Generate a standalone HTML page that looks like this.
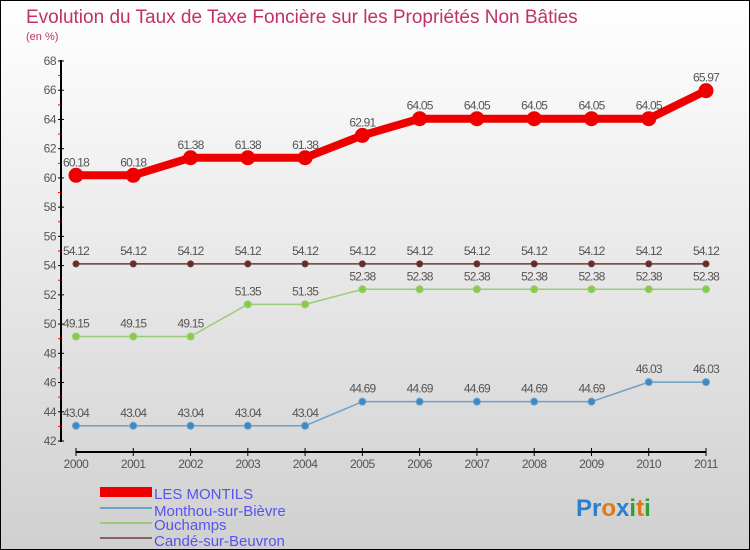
<!DOCTYPE html>
<html><head><meta charset="utf-8"><style>
body{margin:0}
#c{width:750px;height:550px;position:relative;background:linear-gradient(#ffffff,#d0d0d0);box-sizing:border-box;border:1px solid #000;overflow:hidden;font-family:"Liberation Sans",sans-serif}
</style></head><body>
<div id="c">
<svg width="750" height="550" style="position:absolute;left:-1px;top:-1px" id="svg">
<text x="26" y="23" font-size="19" fill="#c0306a">Evolution du Taux de Taxe Foncière sur les Propriétés Non Bâties</text>
<text x="26" y="40" font-size="11" fill="#c0306a">(en %)</text>
<g id="axes"></g><g id="series"></g>
<g>
<rect x="100" y="487" width="52" height="10" fill="#e00"/>
<text x="154" y="499" font-size="15" fill="#5555ee">LES MONTILS</text>
<rect x="100" y="507" width="52" height="2" fill="#6fa0c8"/>
<text x="154" y="516" font-size="15" fill="#5555ee">Monthou-sur-Bièvre</text>
<rect x="100" y="522" width="52" height="2" fill="#99cc77"/>
<text x="154" y="530" font-size="15" fill="#5555ee">Ouchamps</text>
<rect x="100" y="537" width="52" height="2" fill="#8a6060"/>
<text x="154" y="546" font-size="15" fill="#5555ee">Candé-sur-Beuvron</text>
</g>
<text x="576" y="516" font-size="24" font-weight="bold"><tspan fill="#2a7fd0">Pr</tspan><tspan fill="#e07a10">o</tspan><tspan fill="#2a7fd0">x</tspan><tspan fill="#30a030">i</tspan><tspan fill="#e07a10">t</tspan><tspan fill="#30a030">i</tspan></text>
</svg>
</div>
<script>
const years=["2000","2001","2002","2003","2004","2005","2006","2007","2008","2009","2010","2011"];
const yTicks=[42,44,46,48,50,52,54,56,58,60,62,64,66,68];
const montils=[60.18,60.18,61.38,61.38,61.38,62.91,64.05,64.05,64.05,64.05,64.05,65.97];
const monthou=[43.04,43.04,43.04,43.04,43.04,44.69,44.69,44.69,44.69,44.69,46.03,46.03];
const ouchamps=[49.15,49.15,49.15,51.35,51.35,52.38,52.38,52.38,52.38,52.38,52.38,52.38];
const cande=[54.12,54.12,54.12,54.12,54.12,54.12,54.12,54.12,54.12,54.12,54.12,54.12];
const NS="http://www.w3.org/2000/svg";
const xs=i=>76+i*(706-76)/11;
const ys=v=>441-(v-42)*(441-61)/26;
function mk(t,a,p){const e=document.createElementNS(NS,t);for(const k in a)e.setAttribute(k,a[k]);p.appendChild(e);return e;}
const ax=document.getElementById('axes'),se=document.getElementById('series');
let l=mk('line',{x1:61,y1:60,x2:61,y2:442,stroke:'#000','stroke-width':2},ax);


l=mk('line',{x1:76,y1:452,x2:706,y2:452,stroke:'#000','stroke-width':2},ax);


yTicks.forEach((v,i)=>{const y=ys(v);
mk('line',{x1:58,y1:y,x2:64,y2:y,stroke:'#000'},ax);
if(i<yTicks.length-1)mk('line',{x1:58,y1:ys(v+1),x2:61,y2:ys(v+1),stroke:'#e00'},ax);
const t=mk('text',{x:56,y:y+4,'font-size':12,fill:'#555','text-anchor':'end','letter-spacing':'-0.5'},ax);t.textContent=v;

});
years.forEach((yr,i)=>{const x=xs(i);mk('line',{x1:x,y1:448,x2:x,y2:456,stroke:'#000'},ax);
const t=mk('text',{x:x,y:468,'font-size':12,fill:'#555','text-anchor':'middle','letter-spacing':'-0.5'},ax);t.textContent=yr;

});
function series(d,name,col,w,r,fill){
const p=mk('polyline',{points:d.map((v,i)=>xs(i)+','+ys(v)).join(' '),fill:'none',stroke:col,'stroke-width':w,'stroke-linejoin':'round'},se);


d.forEach((v,i)=>{const c=mk('circle',{cx:xs(i),cy:ys(v),r:r,fill:fill,stroke:col},se);


const t=mk('text',{x:xs(i),y:ys(v)-9,'font-size':12,fill:'#555','text-anchor':'middle','letter-spacing':'-0.8'},se);t.textContent=v.toFixed(2);

});}
series(cande,'cande','#6a3a3a',1.5,3,'#6a2a2a');
series(ouchamps,'ouchamps','#99cc77',1.5,3.5,'#88cc44');
series(monthou,'monthou','#6fa0c8',1.5,3.5,'#3a8ac8');
series(montils,'les-montils','#e00',8,7,'#e00');
</script>
</body></html>
